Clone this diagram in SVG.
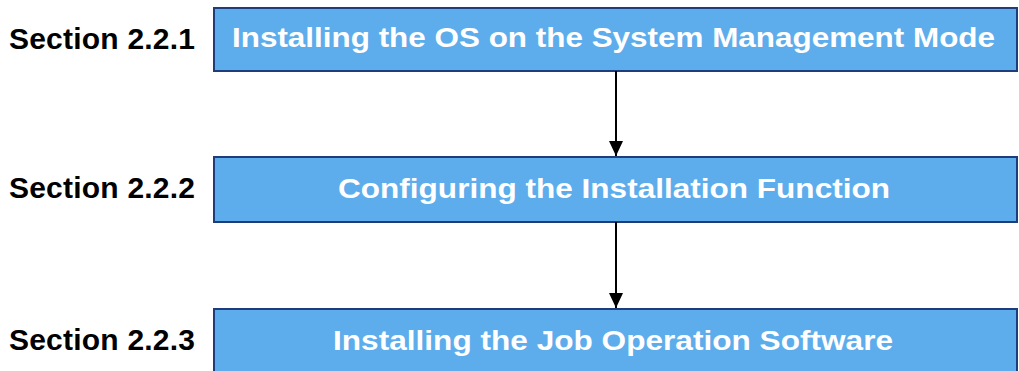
<svg xmlns="http://www.w3.org/2000/svg" width="1019" height="371" viewBox="0 0 1019 371">
<style>
.box{fill:#5dadec;stroke:#1f3d7a;stroke-width:2}
.bt{font-family:"Liberation Sans",Arial,sans-serif;font-weight:bold;font-size:28.5px;fill:#ffffff;text-anchor:middle}
.lbl{font-family:"Liberation Sans",Arial,sans-serif;font-weight:bold;font-size:30px;fill:#000000}
.conn{stroke:#000;stroke-width:2;fill:none}
</style>
<defs>
<marker id="ah" markerWidth="16" markerHeight="16" refX="15" refY="7" orient="auto" markerUnits="userSpaceOnUse">
<path d="M0,0 L15,7 L0,14 Z" fill="#000"/>
</marker>
</defs>
<rect width="1019" height="371" fill="#ffffff"/>
<g id="node1">
<text class="lbl" x="9" y="49" textLength="186">Section 2.2.1</text>
<rect class="box" x="214" y="8" width="803" height="63"/>
<text class="bt" x="613.5" y="47" textLength="763" lengthAdjust="spacingAndGlyphs">Installing the OS on the System Management Mode</text>
</g>
<g id="node2">
<text class="lbl" x="9" y="198" textLength="186">Section 2.2.2</text>
<rect class="box" x="214" y="157" width="803" height="65"/>
<text class="bt" x="614" y="198" textLength="552" lengthAdjust="spacingAndGlyphs">Configuring the Installation Function</text>
</g>
<g id="node3">
<text class="lbl" x="9" y="350" textLength="186">Section 2.2.3</text>
<rect class="box" x="214" y="309" width="803" height="70"/>
<text class="bt" x="613" y="350" textLength="560" lengthAdjust="spacingAndGlyphs">Installing the Job Operation Software</text>
</g>
<g id="connectors">
<line class="conn" x1="616" y1="71" x2="616" y2="156" marker-end="url(#ah)"/>
<line class="conn" x1="616" y1="222" x2="616" y2="308" marker-end="url(#ah)"/>
</g>
</svg>
